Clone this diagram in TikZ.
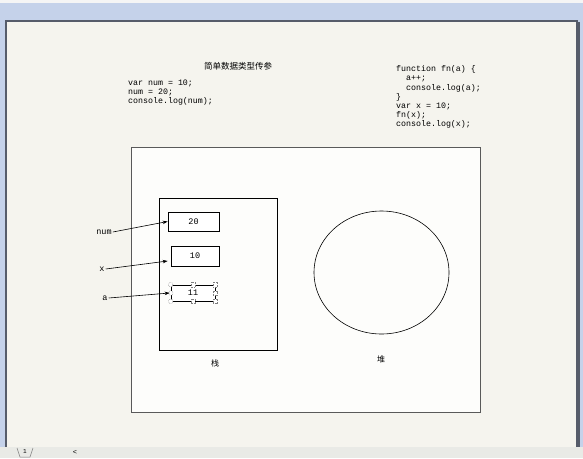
\documentclass[tikz,border=0pt]{standalone}
\usepackage{fontspec}
\setmainfont{Liberation Mono}
\newfontfamily\cjk{Noto Sans CJK SC}
\usetikzlibrary{arrows.meta,shapes.geometric}
\definecolor{winblue}{HTML}{C5D2EA}
\definecolor{pagebg}{HTML}{F5F4EE}
\definecolor{sheetbg}{HTML}{FDFDFB}
\definecolor{barbg}{HTML}{E9EAE6}
\definecolor{pageframe}{HTML}{565C6A}
\tikzset{
  codetext/.style={anchor=north west, align=left, inner sep=0pt,
    font=\fontsize{8.3}{8.9}\selectfont},
  valbox/.style={draw, line width=0.7pt, fill=white, inner sep=0pt,
    font=\fontsize{8.5}{9}\selectfont},
  varname/.style={inner sep=1pt, font=\fontsize{8.5}{9}\selectfont},
  handle/.style={draw=gray, densely dotted, line width=0.5pt, fill=white,
    minimum size=4.5pt, inner sep=0pt},
  ptr/.style={line width=0.6pt, -{Stealth[length=5pt,width=3.5pt]}}
}
\begin{document}
\begin{tikzpicture}[x=1pt, y=-1pt]
  \useasboundingbox (0,0) rectangle (583,458);
  % window around the page
  \fill[winblue] (0,0) rectangle (583,458);
  \fill[white!92!gray] (0,0) rectangle (583,3);
  \fill[pagebg] (6,21) rectangle (577,447);
  \draw[pageframe, line width=1.2pt] (6,447) -- (6,21) -- (577,21) -- (577,447);
  \fill[pageframe] (577,22) rectangle (580,447);
  \fill[barbg] (0,447) rectangle (583,458);
  \draw[gray, line width=0.5pt] (17,448) -- (20,457) -- (30,457) -- (33,448);
  \node[inner sep=0pt, font=\fontsize{6}{6}\selectfont] (tabno) at (25,452) {1};
  \node[inner sep=0pt, font=\fontsize{7}{7}\selectfont] (scroll) at (75,452) {<};

  % code
  \node[font=\cjk\fontsize{8.5}{9}\selectfont] (title) at (238,66) {简单数据类型传参};
  \node[codetext] (leftcode) at (128,80) {var num = 10;\\num = 20;\\console.log(num);};
  \node[codetext, font=\fontsize{8.3}{9.2}\selectfont] (rightcode) at (396,65.5)
    {function fn(a) \{\\\ \ a++;\\\ \ console.log(a);\\\}\\var x = 10;\\fn(x);\\console.log(x);};

  % memory
  \draw[fill=sheetbg, draw=gray!70!black, line width=0.8pt] (131,147) rectangle (480,412);
  \node[draw, line width=0.8pt, minimum width=118pt, minimum height=152pt,
    inner sep=0pt] (stack) at (218.5,274) {};
  \node[draw, line width=0.6pt, ellipse, minimum width=135pt, minimum height=123pt,
    inner sep=0pt] (heap) at (381.5,272.5) {};
  \node[font=\cjk\fontsize{8}{8}\selectfont] (stacklabel) at (215,363) {栈};
  \node[font=\cjk\fontsize{8}{8}\selectfont] (heaplabel) at (381,359) {堆};

  \node[valbox, minimum width=51pt, minimum height=19pt] (v20) at (193.5,221.5) {20};
  \node[valbox, minimum width=48pt, minimum height=20pt] (v10) at (195,256) {10};
  \node[valbox, minimum width=44pt, minimum height=16pt] (v11) at (193,293) {11};
  % selection handles
  \foreach \pos in {north west, west, south west}
    \node[handle, circle] at (v11.\pos) {};
  \foreach \pos in {north, south, north east, east, south east}
    \node[handle] at (v11.\pos) {};

  \node[varname] (num) at (104,232) {num};
  \node[varname] (x) at (102,269) {x};
  \node[varname] (a) at (105,298) {a};
  \draw[ptr] (num.east) -- (v20.west);
  \draw[ptr] (x.east) -- ([xshift=-3pt,yshift=-5pt]v10.west);
  \draw[ptr] (a.east) -- ([xshift=-1pt]v11.west);
\end{tikzpicture}
\end{document}
